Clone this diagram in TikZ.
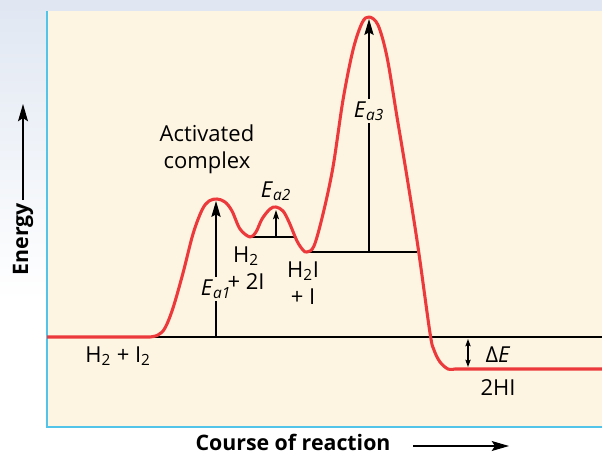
\documentclass[tikz,border=0pt]{standalone}
\usepackage{fontspec}
\setmainfont{Open Sans}
\usetikzlibrary{arrows.meta}

\definecolor{paper}{RGB}{253,244,225}
\definecolor{band}{RGB}{224,231,242}
\definecolor{frame}{RGB}{82,196,234}
\definecolor{curvered}{RGB}{236,58,60}

\tikzset{
  level/.style={line width=0.9pt},
  eaarrow/.style={-{Stealth[length=12pt,width=7pt,inset=2pt]},line width=0.9pt},
  smallarrow/.style={-{Stealth[length=7pt,width=4.5pt,inset=1.5pt]},line width=0.9pt},
  dearrow/.style={{Stealth[length=5.5pt,width=4pt,inset=1pt]}-{Stealth[length=5.5pt,width=4pt,inset=1pt]},line width=0.9pt},
  axarrow/.style={-{Stealth[length=13pt,width=7.5pt,inset=2.5pt]},line width=0.9pt},
  lbl/.style={font=\fontsize{16.5}{20.5}\selectfont,align=center,inner sep=1pt},
  elbl/.style={lbl,fill=paper,inner sep=2pt},
  axlbl/.style={font=\fontsize{16}{18}\selectfont\bfseries,inner sep=1pt}
}

\begin{document}
\begin{tikzpicture}[x=0.75pt,y=-0.75pt]
  \useasboundingbox (0,0) rectangle (602,456);

  % background
  \shade[top color=band,bottom color=white] (0,0) rectangle (47,300);
  \fill[band] (0,0) rectangle (602,11);
  \fill[paper] (47,11) rectangle (602,427);
  \draw[frame,line width=1.6pt] (47,11) -- (47,427) -- (602,427);

  % levels
  \coordinate (r0) at (47,337);
  \coordinate (r1) at (602,337);
  \coordinate (i1l) at (250,237);
  \coordinate (i1r) at (296,237);
  \coordinate (i2l) at (307,252);
  \coordinate (i2r) at (417,252);
  \draw[level] (r0) -- (r1);
  \draw[level] (i1l) -- (i1r);
  \draw[level] (i2l) -- (i2r);

  % energy curve
  \draw[curvered,line width=2.3pt,line join=round]
    (47,337) -- (150,337)
    -- plot[smooth,tension=0.55] coordinates {
      (150,337) (158,335) (165,328) (173,308) (183,273) (193,234)
      (202,210) (209,201) (217,199) (225,202) (232,211) (240,229)
      (250,237) (256,232) (262,219) (270,209) (276,207) (283,211)
      (289,222) (297,241) (303,250) (307,252) (314,246) (323,214)
      (333,167) (343,100) (353,50) (362,23) (369,17) (378,25)
      (387,57) (397,117) (407,177) (418,247) (430,333) (434,350)
      (440,362) (448,369) (455,369)}
    -- (602,369);

  % activation energies
  \coordinate (b1) at (216,337);
  \coordinate (t1) at (216,201);
  \coordinate (b2) at (276,237);
  \coordinate (t2) at (276,210);
  \coordinate (b3) at (369,252);
  \coordinate (t3) at (369,19);
  \draw[eaarrow] (b1) -- (t1);
  \draw[smallarrow] (b2) -- (t2);
  \draw[eaarrow] (b3) -- (t3);
  \node[elbl] (ea1) at (216,289) {\textit{E}\textsubscript{\textit{a1}}};
  \node[lbl] (ea2) at (276,191) {\textit{E}\textsubscript{\textit{a2}}};
  \node[elbl] (ea3) at (369,111) {\textit{E}\textsubscript{\textit{a3}}};

  % delta E
  \coordinate (d0) at (468,339);
  \coordinate (d1) at (468,367);
  \draw[dearrow] (d0) -- (d1);
  \node[lbl] (de) at (498,355) {Δ\textit{E}};

  % species
  \node[lbl] (react) at (118,356) {H\textsubscript{2} + I\textsubscript{2}};
  \node[lbl] (inter1) at (246,268) {H\textsubscript{2}\\+ 2I};
  \node[lbl] (inter2) at (303,283) {H\textsubscript{2}I\\+ I};
  \node[lbl] (prod) at (498,388) {2HI};
  \node[lbl] (actc) at (207,149) {Activated\\complex};

  % axes
  \node[axlbl,rotate=90] (energy) at (23,239) {Energy};
  \coordinate (ebot) at (23,200);
  \coordinate (etop) at (23,104);
  \draw[axarrow] (ebot) -- (etop);
  \node[axlbl] (course) at (293,442) {Course of reaction};
  \coordinate (cstart) at (413,446);
  \coordinate (cend) at (509,446);
  \draw[axarrow] (cstart) -- (cend);
\end{tikzpicture}
\end{document}
